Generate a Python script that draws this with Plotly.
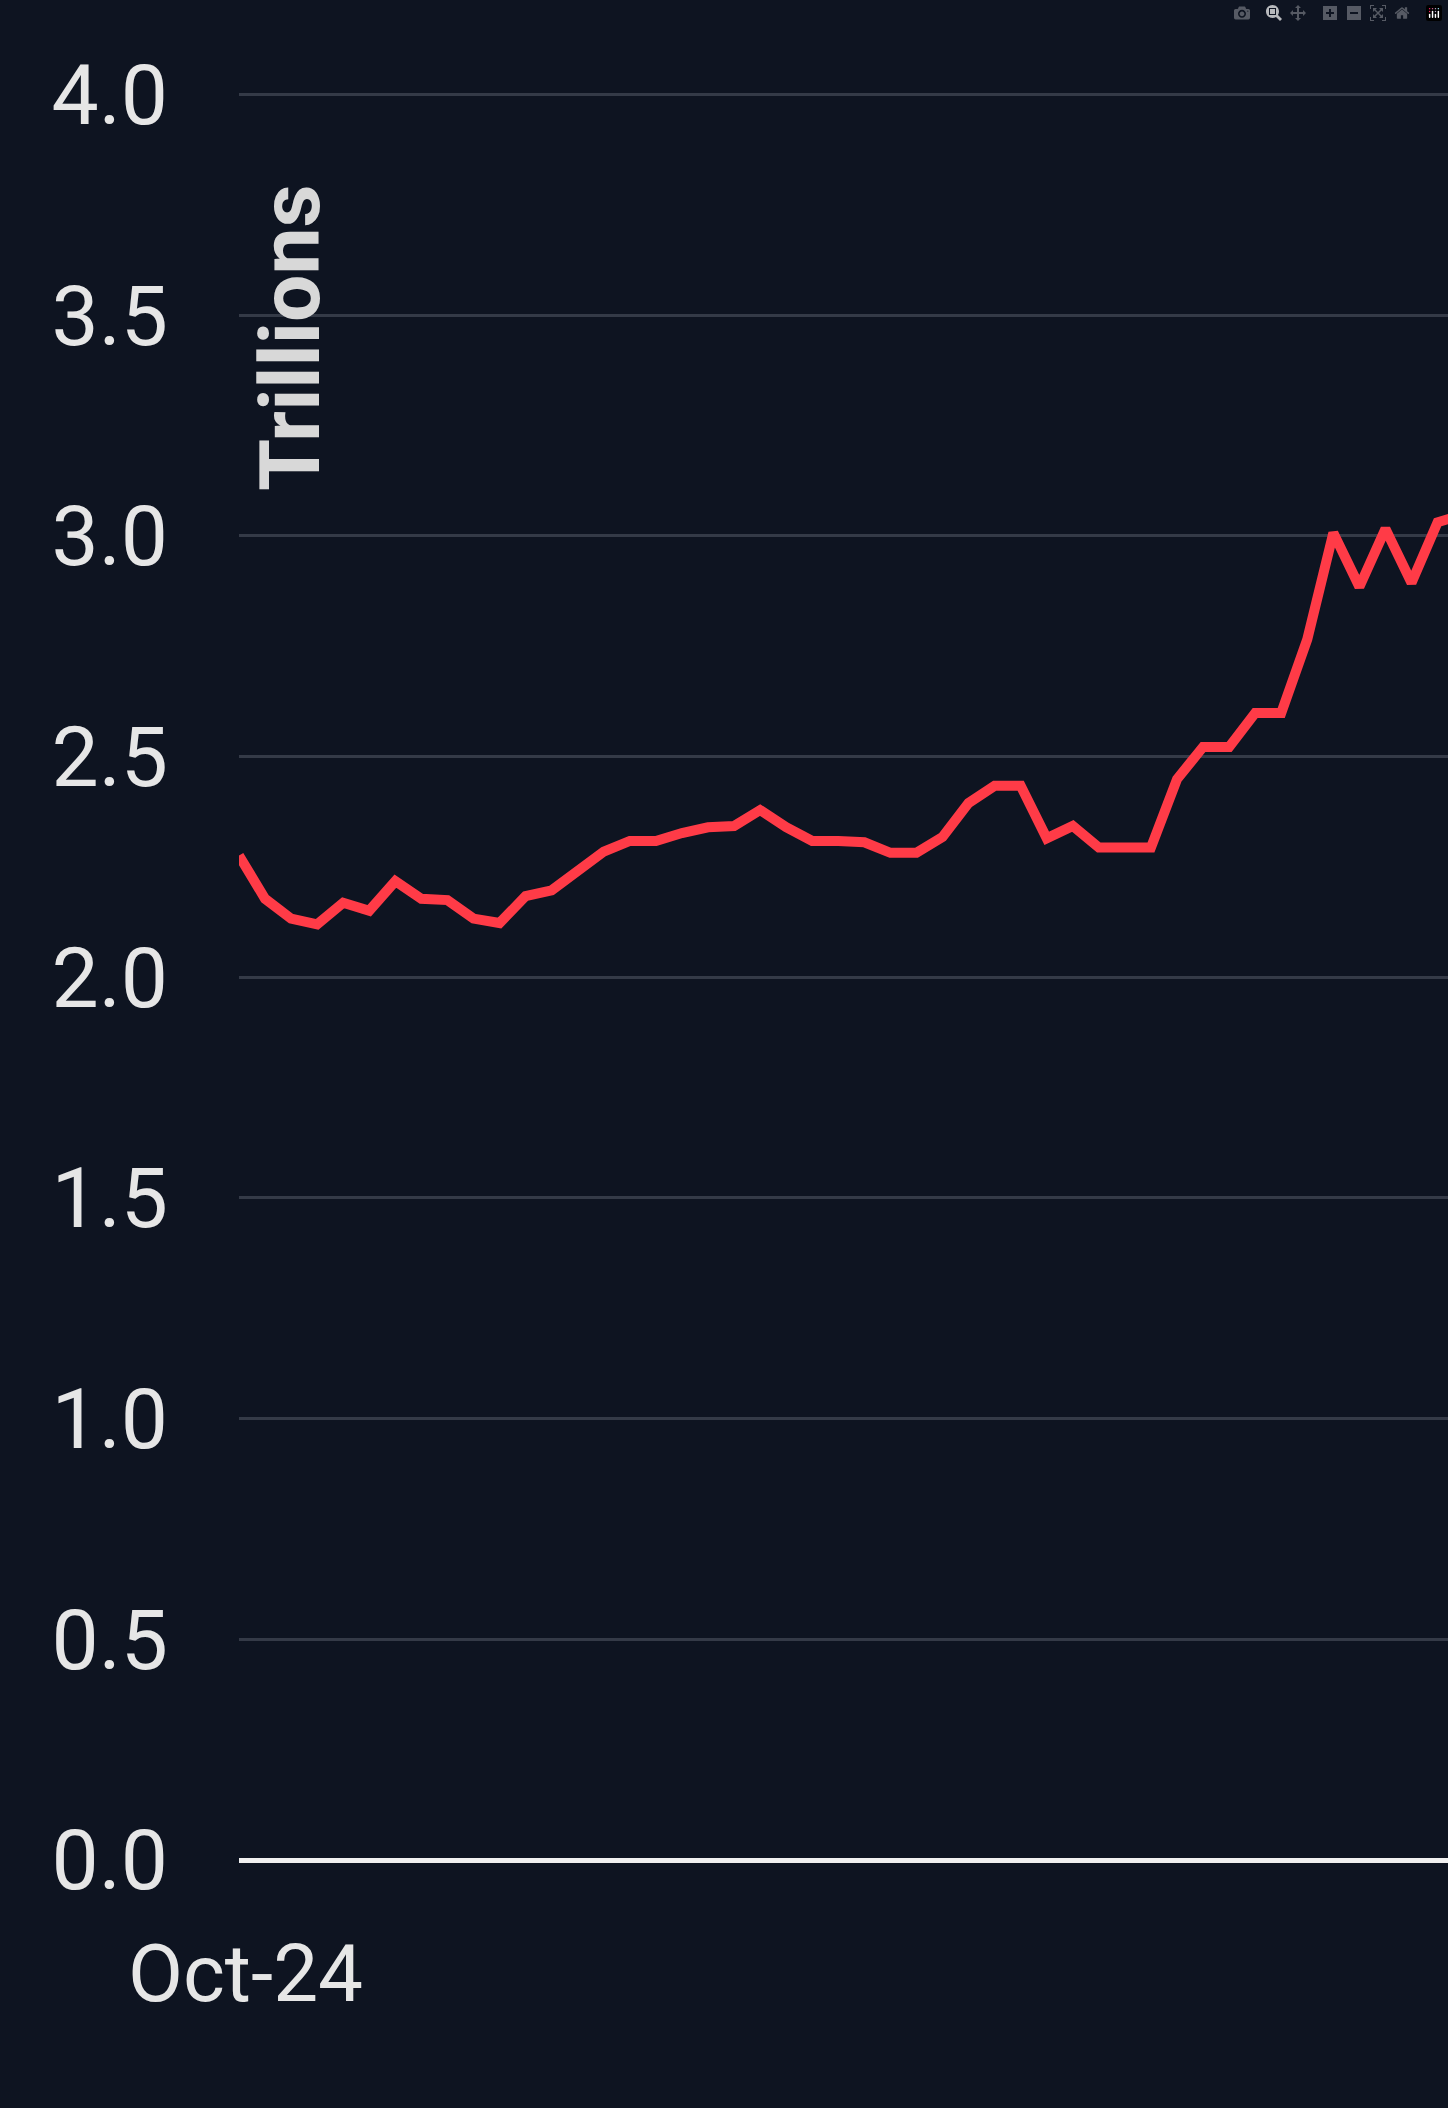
import plotly.graph_objects as go

x_index = list(range(48))
values = [2.276, 2.178, 2.133, 2.12, 2.169, 2.151, 2.218, 2.178, 2.175, 2.133, 2.123, 2.184,
          2.197, 2.239, 2.285, 2.309, 2.309, 2.327, 2.340, 2.343, 2.379, 2.340, 2.309, 2.309,
          2.306, 2.282, 2.282, 2.318, 2.395, 2.434, 2.434, 2.315, 2.343, 2.294, 2.294, 2.294,
          2.449, 2.522, 2.522, 2.599, 2.599, 2.766, 3.007, 2.885, 3.016, 2.894, 3.031, 3.049]
x_tick_vals = [0.25]
x_tick_text = ["Oct-24"]
y_ticks = [0.0, 0.5, 1.0, 1.5, 2.0, 2.5, 3.0, 3.5, 4.0]

bg = "#0e1421"
fig = go.Figure(go.Scatter(x=x_index, y=values, mode="lines",
                           line=dict(color="#ff3b47", width=10)))
fig.update_layout(
    width=1448, height=2108, paper_bgcolor=bg, plot_bgcolor=bg,
    margin=dict(l=239, r=0, t=92, b=248), showlegend=False,
    font=dict(family="Roboto", color="#e6e6e6"),
)
fig.update_xaxes(range=[0, 46.4], showgrid=False, zeroline=False, showline=False,
                 tickvals=x_tick_vals, ticktext=x_tick_text, tickfont=dict(size=80),
                 ticks="", ticklabelstandoff=60)
fig.update_yaxes(range=[0, 4.006], tickvals=y_ticks, ticktext=[f"{v:.1f}" for v in y_ticks],
                 tickfont=dict(size=84), gridcolor="#343a47", gridwidth=3,
                 zeroline=True, zerolinecolor="#f0f0f0", zerolinewidth=5,
                 ticks="", ticklabelstandoff=70, showline=False)
fig.add_annotation(text="<b>Trillions</b>", xref="paper", yref="y", x=0.0, y=3.45,
                   xanchor="left", yanchor="middle", textangle=-90, showarrow=False,
                   xshift=0, font=dict(size=84, color="#d8d8d8", family="Roboto"))
fig.write_html("out.html")

with open("out.html", "r", encoding="utf-8") as f:
    html = f.read()
html = html.replace("<body>", '<body style="margin:0;padding:0;background:#0e1421;">', 1)
with open("out.html", "w", encoding="utf-8") as f:
    f.write(html)
